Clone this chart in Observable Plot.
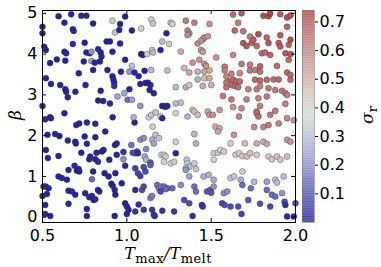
<!DOCTYPE html>
<html><head><meta charset="utf-8">
<script src="https://cdn.jsdelivr.net/npm/d3@7"></script>
<script src="https://cdn.jsdelivr.net/npm/@observablehq/plot@0.6"></script>
<style>
body{margin:0;background:#fff;}
#wrap{position:relative;width:381px;height:267px;overflow:hidden;background:#fff;}
#main{position:absolute;left:0;top:0;}
#cbar{position:absolute;left:295px;top:0;}
.lbl{position:absolute;font-family:"DejaVu Serif";font-style:italic;color:#000;white-space:nowrap;line-height:12px;}
.lbl sub{font-style:normal;font-size:13px;vertical-align:-4px;line-height:0;}
#xl{left:168px;top:247.5px;font-size:16px;letter-spacing:0.4px;transform:translateX(-50%);}
#yl{left:15px;top:115px;font-size:17px;transform:translate(-50%,-50%) rotate(-90deg);}
#cl{left:367px;top:115px;font-size:17px;transform:translate(-50%,-50%) rotate(-90deg);}
</style></head><body>
<div id="wrap"><div id="main"></div><div id="cbar"></div>
<div class="lbl" id="xl">T<sub>max</sub>/T<sub>melt</sub></div>
<div class="lbl" id="yl">β</div>
<div class="lbl" id="cl">σ<sub>r</sub></div>
</div>
<script>
// [T_max/T_melt, beta, sigma_r]
const upperLeft = [
[0.50,4.67,.02],[0.50,4.51,.02],[0.51,4.18,.02],[0.52,4.10,.02],[0.595,4.93,.02],[0.63,4.77,.02],[0.67,4.98,.02],[0.68,4.61,.02],[0.685,4.57,.02],[0.73,4.94,.02],[0.76,4.94,.02],[0.80,4.75,.02],
[0.545,3.78,.02],[0.585,3.87,.02],[0.63,4.06,.02],[0.64,4.02,.02],[0.635,3.84,.02],[0.68,4.25,.03],[0.75,4.28,.02],[0.76,4.04,.02],[0.78,4.02,.02],[0.79,4.06,.22],[0.79,3.83,.25],
[0.83,4.12,.02],[0.845,4.04,.02],[0.85,3.94,.02],[0.84,3.82,.02],[0.81,3.79,.02],[0.88,4.31,.02],[0.90,4.31,.02],[0.96,4.26,.02],[0.915,4.06,.02],[0.99,3.86,.02],
[0.915,4.82,.42],[0.93,4.53,.33],[0.96,4.74,.02],[0.955,4.59,.02],[0.99,4.92,.02],[1.03,4.58,.02],[1.085,4.63,.40],[1.145,4.85,.42],[1.155,4.75,.33],[1.03,3.71,.30],
[1.085,4.00,.02],[1.095,3.98,.02],[1.12,4.00,.42],[1.15,4.10,.33],[1.155,4.04,.30],[1.20,4.10,.02],
[0.52,3.41,.02],[0.55,3.27,.02],[0.605,3.24,.02],[0.635,3.14,.02],[0.64,3.08,.02],[0.65,2.94,.02],[0.695,3.08,.02],[0.755,3.24,.02],[0.80,3.61,.02],[0.83,2.86,.02],[0.86,2.85,.02],[0.845,3.10,.02],
[0.915,3.46,.02],[0.92,3.38,.02],[0.925,3.30,.02],[0.925,3.22,.05],[1.015,3.57,.22],[1.045,3.55,.02],[1.07,3.46,.02],[1.08,3.27,.02],[1.11,3.29,.02],[1.125,3.30,.02],[1.14,3.24,.02],[1.135,3.12,.02],[1.105,3.59,.02],[1.145,3.61,.30],
[1.015,3.14,.02],[0.985,3.04,.25],[1.005,2.88,.15],[1.03,2.88,.25],[0.945,2.96,.25],[1.08,2.73,.22],[1.16,3.04,.02],[0.50,2.73,.02],[0.715,3.53,.02],[0.745,3.82,.02],[0.885,3.61,.02],[0.965,3.57,.02],[0.90,2.79,.02]
];
const upperRight = [
[1.26,4.77,.45],[1.27,4.74,.35],[1.235,4.51,.02],[1.35,4.82,.62],[1.40,4.77,.60],[1.49,4.74,.55],[1.63,4.97,.65],[1.68,5.00,.68],[1.66,4.77,.60],[1.81,4.94,.70],[1.84,4.93,.70],[1.85,5.00,.72],[1.91,4.98,.68],[1.95,4.90,.70],[1.97,4.95,.70],
[1.36,4.58,.60],[1.37,4.51,.60],[1.36,4.47,.58],
[1.42,4.26,.58],[1.45,4.36,.58],[1.46,4.41,.58],[1.44,4.33,.56],[1.48,4.44,.56],
[1.64,4.58,.66],[1.69,4.56,.63],[1.78,4.49,.70],[1.73,4.43,.62],[1.83,4.41,.66],[1.91,4.46,.68],[1.95,4.67,.66],
[1.21,4.31,.30],[1.25,4.25,.40],
[1.69,4.27,.68],[1.71,4.20,.68],[1.74,4.28,.66],[1.75,4.35,.68],[1.77,4.20,.66],
[1.84,4.27,.68],[1.90,4.27,.68],[1.91,4.19,.68],[1.96,4.23,.66],[1.97,4.35,.70],
[1.32,4.06,.50],[1.44,4.10,.55],[1.45,4.06,.55],[1.63,3.98,.58],[1.80,4.02,.65],[1.82,4.04,.65],[1.85,3.98,.66],[1.94,4.02,.68],[1.97,4.00,.68],
[1.39,3.79,.55],[1.43,3.86,.55],[1.46,3.76,.55],[1.47,3.71,.55],[1.53,3.92,.55],[1.58,3.69,.62],[1.68,3.76,.62],[1.73,3.74,.60],[1.79,3.70,.65],[1.89,3.71,.65],[1.96,3.86,.65],
[1.24,3.60,.30],[1.34,3.66,.30],[1.37,3.55,.50],[1.42,3.57,.50],[1.46,3.57,.50],[1.49,3.60,.50],[1.58,3.60,.60],[1.62,3.52,.60],[1.67,3.53,.58],[1.73,3.60,.62],[1.76,3.61,.62],[1.79,3.57,.62],[1.95,3.55,.65],[1.97,3.49,.65],
[1.42,3.38,.28],[1.46,3.41,.45],[1.49,3.41,.50],[1.59,3.45,.58],
[1.61,3.33,.63],[1.63,3.37,.64],[1.65,3.33,.65],[1.67,3.33,.64],[1.62,3.24,.63],[1.64,3.22,.65],[1.66,3.19,.64],[1.59,3.19,.62],[1.59,3.30,.63],
[1.76,3.37,.65],[1.79,3.35,.65],[1.83,3.37,.65],[1.87,3.38,.65],[1.90,3.38,.66],[1.97,3.37,.65],
[1.29,3.19,.30],[1.35,3.19,.50],[1.37,3.24,.33],[1.45,3.22,.50],[1.50,3.24,.50],
[1.72,3.14,.60],[1.77,3.14,.60],[1.79,3.22,.60],[1.84,3.16,.62],[1.88,3.12,.62],[1.92,3.10,.62],
[1.57,2.97,.60],[1.62,2.89,.60],[1.71,2.89,.60],[1.78,2.92,.60],[1.83,2.96,.60],[1.94,3.04,.60],[1.95,3.00,.60],
[1.21,2.73,.02],[1.22,2.72,.02],[1.23,2.71,.02],[1.24,2.73,.02],[1.32,2.81,.45],[1.29,2.79,.30],[1.39,2.63,.45],[1.48,2.59,.50],[1.55,2.63,.55],[1.63,2.70,.55],[1.68,2.67,.58],[1.77,2.59,.60],[1.79,2.73,.60],[1.88,2.61,.62],[1.94,2.78,.60]
];
const lowerLeft = [
[0.516,2.40,.02],[0.545,2.45,.02],[0.55,2.43,.02],[0.70,2.26,.02],[0.718,2.30,.02],[0.763,2.32,.02],[0.813,2.29,.02],[0.872,2.10,.02],[0.916,2.45,.02],[1.046,2.32,.02],[1.04,2.45,.28],[1.13,2.45,.35],[1.145,2.51,.33],[1.17,2.57,.32],[1.153,2.22,.35],[1.20,2.47,.38],[0.63,2.55,.02],
[0.53,2.02,.02],[0.575,2.04,.02],[0.60,1.99,.02],[0.65,1.88,.02],[0.694,1.85,.02],[0.698,1.81,.02],[0.75,1.98,.02],[0.763,1.80,.02],[0.813,1.96,.02],[0.93,1.77,.02],[0.94,1.81,.02],
[1.027,1.77,.15],[1.06,1.61,.12],[1.05,1.57,.10],[1.08,1.90,.20],[1.10,1.94,.20],[1.15,1.90,.28],[1.16,1.81,.25],[1.17,2.02,.32],[1.19,1.94,.33],[1.114,1.67,.20],
[0.52,1.65,.02],[0.532,1.45,.02],[0.595,1.50,.02],[0.73,1.58,.02],[0.777,1.42,.02],[0.783,1.49,.02],[0.813,1.42,.02],[0.829,1.36,.02],[0.852,1.61,.02],[0.862,1.65,.02],[0.896,1.41,.02],[0.94,1.53,.02],
[0.98,1.42,.20],[1.035,1.58,.10],[1.066,1.57,.03],[1.106,1.49,.25],[1.114,1.41,.28],[1.14,1.34,.12],[1.205,1.53,.35],[0.82,1.58,.02],[0.98,1.60,.05],
[0.595,1.00,.02],[0.615,0.96,.02],[0.645,0.92,.02],[0.654,1.16,.02],[0.69,1.26,.02],[0.704,1.14,.02],[0.714,1.18,.02],[0.718,1.12,.02],[0.793,0.93,.15],[0.80,1.12,.02],[0.868,1.08,.02],[0.892,1.00,.02],[0.932,1.08,.02],[0.99,1.26,.02],
[1.05,1.20,.08],[1.066,1.08,.10],[1.08,1.01,.08],[1.10,1.23,.10],[1.11,1.12,.10],[1.14,1.28,.12],
[0.506,0.75,.02],[0.52,0.75,.02],[0.536,0.71,.02],[0.50,0.52,.02],[0.526,0.57,.02],[0.654,0.65,.02],[0.674,0.63,.02],[0.694,0.55,.02],[0.753,0.59,.02],[0.777,0.49,.02],[0.793,0.52,.02],[0.803,0.42,.02],[0.813,0.44,.02],[0.829,0.67,.02],[0.837,0.63,.02],
[0.908,0.82,.02],[0.916,0.77,.02],[0.928,0.67,.02],[0.932,0.55,.02],[0.97,0.83,.02],[1.05,0.67,.03],[1.09,0.67,.10],[1.10,0.75,.10],[1.14,0.47,.18],[1.15,0.52,.18],[1.18,0.79,.15],[1.19,0.71,.15],[1.205,0.75,.18],
[0.516,0.30,.02],[0.516,0.08,.02],[0.546,0.03,.02],[0.654,0.33,.02],[0.763,0.20,.02],[0.763,0.03,.02],[0.928,0.03,.02],[0.99,0.34,.02],[1.00,0.26,.02],[1.01,0.18,.02],[1.00,0.08,.02],[1.05,0.14,.06],[1.07,0.31,.04],[1.10,0.18,.06],[1.15,0.18,.05],[1.165,0.03,.04],[1.16,0.06,.04]
];
const lowerRight = [
[1.21,2.43,.02],[1.29,2.55,.40],[1.36,2.47,.28],[1.40,2.59,.45],[1.42,2.51,.45],[1.49,2.51,.55],[1.51,2.51,.55],[1.665,2.47,.60],[1.77,2.55,.65],[1.78,2.47,.65],[1.85,2.51,.62],[1.95,2.43,.58],[1.99,2.38,.55],
[1.525,2.22,.50],[1.55,2.18,.50],[1.54,2.10,.52],[1.40,2.04,.48],[1.635,2.02,.55],[1.755,2.21,.58],[1.81,2.21,.58],[1.84,2.26,.60],[1.90,2.30,.60],
[1.29,1.85,.35],[1.41,1.81,.28],[1.615,1.81,.42],[1.70,1.81,.45],[1.77,1.81,.50],[1.81,1.85,.50],[1.83,1.80,.52],[1.95,1.90,.55],[1.97,1.85,.55],
[1.22,1.53,.35],[1.23,1.49,.35],[1.22,1.36,.36],[1.26,1.32,.35],[1.28,1.36,.35],[1.29,1.57,.02],[1.355,1.41,.33],[1.36,1.32,.33],[1.37,1.24,.32],[1.35,1.20,.30],[1.40,1.32,.34],
[1.515,1.57,.42],[1.54,1.58,.42],[1.555,1.65,.40],[1.575,1.61,.40],[1.515,1.41,.36],[1.645,1.53,.42],[1.665,1.57,.42],[1.685,1.50,.42],[1.71,1.49,.45],[1.73,1.57,.45],[1.77,1.53,.42],
[1.84,1.49,.42],[1.86,1.42,.42],[1.89,1.49,.42],[1.91,1.41,.42],[1.95,1.49,.45],
[1.35,1.16,.22],[1.37,1.00,.25],[1.41,1.18,.33],[1.455,1.00,.28],[1.485,1.04,.28],[1.515,0.92,.26],[1.615,0.96,.32],[1.635,1.00,.32],[1.685,1.12,.34],[1.675,0.92,.27],[1.755,0.87,.30],[1.83,0.87,.25],[1.88,0.92,.30],[1.89,0.85,.30],[1.93,1.00,.30],
[1.22,0.75,.15],[1.24,0.71,.15],[1.23,0.69,.15],[1.27,0.71,.15],[1.20,0.63,.10],[1.32,0.79,.20],[1.40,0.75,.15],[1.41,0.63,.15],[1.475,0.63,.12],[1.495,0.67,.12],[1.50,0.60,.12],[1.515,0.75,.22],[1.575,0.59,.20],[1.595,0.63,.20],
[1.685,0.79,.15],[1.735,0.71,.15],[1.83,0.67,.15],[1.86,0.55,.15],[1.88,0.51,.15],[1.92,0.59,.22],
[1.34,0.42,.10],[1.37,0.34,.10],[1.445,0.30,.05],[1.45,0.26,.05],[1.565,0.34,.10],[1.58,0.30,.10],[1.615,0.26,.10],[1.66,0.26,.10],[1.72,0.42,.12],[1.79,0.33,.10],[1.85,0.26,.10],[1.935,0.38,.10],[1.94,0.30,.04],
[1.21,0.16,.05],[1.28,0.14,.05],[1.39,0.03,.04],[1.68,0.08,.08],[1.95,0.02,.03],[1.99,0.02,.03],[2.00,0.34,.10]
];
const xTicks = [0.5, 1.0, 1.5, 2.0];
const yTicks = [0, 1, 2, 3, 4, 5];
const cbarTicks = [0.1, 0.2, 0.3, 0.4, 0.5, 0.6, 0.7];
const sigmaStops = [0, 0.1, 0.2, 0.3, 0.37, 0.45, 0.55, 0.65, 0.74];
const sigmaColors = ["#1c1c96","#4a4cb4","#8a8cc8","#b8bcd8","#d2d8d4","#d4beb8","#c89494","#bc6a6a","#b03c3c"];

const points = [...upperLeft, ...upperRight, ...lowerLeft, ...lowerRight].map(([t, b, s]) => ({t, b, s}));
const colorOpts = {type: "linear", domain: sigmaStops, range: sigmaColors, interpolate: "rgb"};

const main = Plot.plot({
  width: 300, height: 267,
  marginLeft: 42, marginRight: 5, marginTop: 10, marginBottom: 45,
  style: {fontFamily: "DejaVu Sans", fontSize: "16px", background: "white", color: "black", overflow: "visible"},
  x: {domain: [0.5, 2.0]},
  y: {domain: [-0.13, 5.07]},
  color: colorOpts,
  marks: [
    Plot.dot(points, {x: "t", y: "b", fill: "s", r: 3, stroke: "#2a2a2a", strokeWidth: 0.5, strokeOpacity: 0.75}),
    Plot.frame({stroke: "black", strokeWidth: 1}),
    Plot.tickX(xTicks, {x: d => d, insetTop: 208, stroke: "black"}),
    Plot.tickX(xTicks, {x: d => d, insetBottom: 208, stroke: "black"}),
    Plot.tickY(yTicks, {y: d => d, insetRight: 249, stroke: "black"}),
    Plot.tickY(yTicks, {y: d => d, insetLeft: 249, stroke: "black"}),
    Plot.axisX(xTicks, {tickSize: 0, tickPadding: 7, fontSize: 16, label: null, tickFormat: d => d.toFixed(1)}),
    Plot.axisY(yTicks, {tickSize: 0, tickPadding: 5, fontSize: 16, label: null, tickFormat: d => String(d)})
  ]
});
document.getElementById("main").append(main);

const steps = d3.range(0, 0.74, 0.0025);
const cbar = Plot.plot({
  width: 86, height: 267,
  marginLeft: 7, marginRight: 67, marginTop: 10, marginBottom: 45,
  style: {fontFamily: "DejaVu Sans", fontSize: "16px", background: "transparent", color: "black"},
  y: {domain: [0, 0.74]},
  color: colorOpts,
  marks: [
    Plot.rect(steps, {y1: d => d, y2: d => Math.min(d + 0.0035, 0.74), fill: d => d, fillOpacity: 0.72}),
    Plot.frame({stroke: "#777", strokeWidth: 0.6}),
    Plot.axisY(cbarTicks, {anchor: "right", tickSize: 3, tickPadding: 2, fontSize: 16, label: null, tickFormat: d => d.toFixed(1)})
  ]
});
document.getElementById("cbar").append(cbar);
</script>
</body></html>
